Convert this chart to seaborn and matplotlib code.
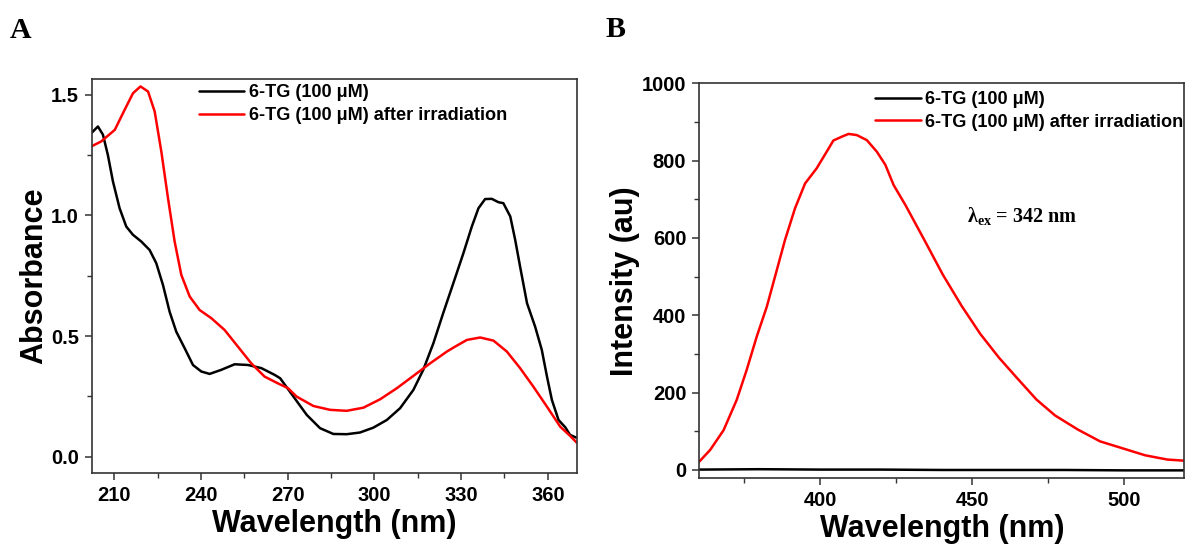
import numpy as np
import pandas as pd
import seaborn as sns
import matplotlib.pyplot as plt
from matplotlib.ticker import MultipleLocator

# Panel A: absorbance spectra
abs_wl_tg = [202.05, 204.36, 206.1, 207.8, 209.56, 211.86, 214.17, 216.47, 219.36, 222.24,
             224.55, 226.86, 229.16, 231.47, 234.35, 237.24, 240.12, 243.0, 247.05, 251.66,
             256.28, 260.9, 265.5, 267.4, 272.0, 276.6, 281.2, 285.8, 290.4, 295.0,
             299.6, 304.3, 308.9, 313.5, 316.9, 320.4, 323.8, 327.3, 330.8, 333.7,
             336.0, 338.3, 340.6, 342.9, 344.6, 347.0, 348.7, 350.4, 352.8, 355.6,
             357.9, 359.7, 361.4, 363.7, 366.0, 367.7, 369.8]
abs_tg = [1.341, 1.369, 1.335, 1.251, 1.141, 1.030, 0.954, 0.920, 0.892, 0.857,
          0.802, 0.712, 0.601, 0.518, 0.450, 0.380, 0.353, 0.343, 0.360, 0.383,
          0.380, 0.367, 0.339, 0.325, 0.249, 0.173, 0.118, 0.094, 0.093, 0.100,
          0.120, 0.152, 0.201, 0.277, 0.360, 0.470, 0.595, 0.719, 0.844, 0.954,
          1.030, 1.068, 1.069, 1.055, 1.051, 0.996, 0.899, 0.788, 0.636, 0.539,
          0.443, 0.332, 0.235, 0.152, 0.122, 0.090, 0.079]

abs_wl_irr = [202.05, 205.5, 210.2, 213.6, 216.5, 219.1, 221.7, 224.0, 226.3, 228.6,
              230.9, 233.2, 236.1, 239.55, 243.6, 248.2, 252.8, 257.4, 262.0, 266.6,
              270.1, 273.1, 278.9, 284.7, 290.4, 296.2, 302.0, 307.8, 313.5, 319.3,
              325.1, 327.9, 332.0, 336.6, 341.2, 345.8, 350.4, 355.0, 359.7, 364.3,
              367.7, 370.0]
abs_irr = [1.286, 1.307, 1.355, 1.438, 1.507, 1.535, 1.514, 1.431, 1.265, 1.072,
           0.892, 0.754, 0.664, 0.608, 0.574, 0.525, 0.456, 0.387, 0.332, 0.304,
           0.284, 0.249, 0.210, 0.194, 0.190, 0.203, 0.238, 0.284, 0.335, 0.387,
           0.436, 0.456, 0.484, 0.494, 0.481, 0.436, 0.367, 0.290, 0.207, 0.124,
           0.086, 0.058]

# Panel B: fluorescence spectra
fl_wl_tg = [360, 380, 400, 420, 440, 460, 480, 500, 520]
fl_tg = [1, 2, 1, 1, 0, 0, 0, -1, -1]

fl_wl_irr = [359.9, 363.8, 368.2, 372.5, 375.8, 379.1, 382.4, 385.7, 388.4, 391.7,
             395.0, 398.8, 402.1, 404.3, 407.1, 409.3, 412.0, 415.3, 418.6, 421.4,
             424.1, 428.0, 434.2, 440.3, 446.5, 452.6, 458.8, 464.9, 471.1, 477.2,
             484.6, 492.0, 499.4, 506.8, 514.1, 519.7]
fl_irr = [19, 52, 103, 181, 259, 345, 422, 517, 595, 677,
          741, 780, 823, 852, 862, 869, 866, 853, 823, 789,
          737, 685, 595, 505, 424, 352, 290, 236, 182, 141,
          105, 74, 56, 38, 27, 24]

labels = ["6-TG (100 \u03bcM)", "6-TG (100 \u03bcM) after irradiation"]

sns.set_style("ticks")
plt.rcParams['font.family'] = ['Liberation Sans', 'DejaVu Sans']
plt.rcParams['font.weight'] = 'bold'
plt.rcParams['text.color'] = 'black'
plt.rcParams['axes.labelcolor'] = 'black'
plt.rcParams['mathtext.fontset'] = 'custom'
plt.rcParams['mathtext.rm'] = 'Liberation Serif:bold'
plt.rcParams['mathtext.bf'] = 'Liberation Serif:bold'
plt.rcParams['mathtext.it'] = 'Liberation Serif:bold'

fig = plt.figure(figsize=(11.85, 5.45), dpi=100)
axA = fig.add_axes([0.0776, 0.1316, 0.4096, 0.7235])
axB = fig.add_axes([0.5901, 0.1224, 0.4093, 0.7248])

sns.lineplot(x=abs_wl_tg, y=abs_tg, color='black', lw=1.8, ax=axA, label=labels[0])
sns.lineplot(x=abs_wl_irr, y=abs_irr, color='#ff0000', lw=1.8, ax=axA, label=labels[1])
sns.lineplot(x=fl_wl_tg, y=fl_tg, color='black', lw=1.8, ax=axB, label=labels[0])
sns.lineplot(x=fl_wl_irr, y=fl_irr, color='#ff0000', lw=1.8, ax=axB, label=labels[1])

axA.set_xlim(202.3, 370.2)
axA.set_ylim(-0.069, 1.566)
axA.set_xticks([210, 240, 270, 300, 330, 360])
axA.set_yticks([0.0, 0.5, 1.0, 1.5])
axA.set_yticklabels(['0.0', '0.5', '1.0', '1.5'])
axA.xaxis.set_minor_locator(MultipleLocator(15))
axA.yaxis.set_minor_locator(MultipleLocator(0.25))
axA.set_xlabel('Wavelength (nm)', fontsize=22, fontweight='bold', labelpad=3)
axA.set_ylabel('Absorbance', fontsize=22, fontweight='bold', labelpad=1)

axB.set_xlim(360.2, 519.7)
axB.set_ylim(-21.5, 1000)
axB.set_xticks([400, 450, 500])
axB.set_yticks([0, 200, 400, 600, 800, 1000])
axB.xaxis.set_minor_locator(MultipleLocator(25))
axB.yaxis.set_minor_locator(MultipleLocator(100))
axB.set_xlabel('Wavelength (nm)', fontsize=22, fontweight='bold', labelpad=3)
axB.set_ylabel('Intensity (au)', fontsize=22, fontweight='bold', labelpad=1)

axB.text(448.1, 640, r'λ$_{\mathrm{ex}}$ = 342 nm', fontsize=14.5,
         family='Liberation Serif', fontweight='bold', ha='left', va='baseline')

for ax, anchor in [(axA, (0.2205, 0.986)), (axB, (0.363, 0.98))]:
    for s in ax.spines.values():
        s.set_visible(True)
        s.set_color('#333333')
        s.set_linewidth(1.2)
    ax.tick_params(axis='both', which='major', direction='out', length=5.3, width=1.1,
                   pad=4, labelsize=14.5, colors='#333333', labelcolor='black',
                   top=False, right=False)
    ax.tick_params(axis='both', which='minor', direction='out', length=3.5, width=1.0,
                   colors='#333333', top=False, right=False)
    for lab in ax.get_xticklabels() + ax.get_yticklabels():
        lab.set_fontweight('bold')
    ax.legend(loc='upper left', bbox_to_anchor=anchor, frameon=False,
              handlelength=2.5, handletextpad=0.25, labelspacing=0.3, borderpad=0,
              borderaxespad=0, prop={'weight': 'bold', 'size': 13.1})

fig.text(10 / 1185, 1 - 38 / 545, 'A', family='Liberation Serif', fontweight='bold',
         fontsize=21.5, va='baseline', ha='left')
fig.text(605 / 1185, 1 - 37 / 545, 'B', family='Liberation Serif', fontweight='bold',
         fontsize=21.5, va='baseline', ha='left')

fig.savefig('out.png', dpi=100)
